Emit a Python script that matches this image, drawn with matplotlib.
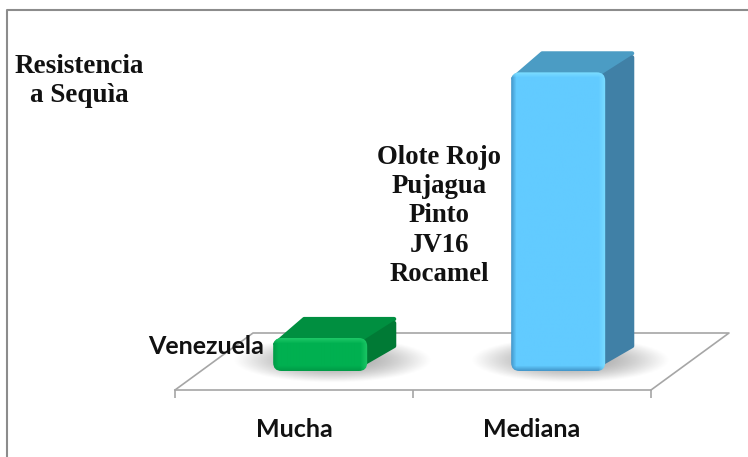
import numpy as np
import matplotlib
matplotlib.use("Agg")
import matplotlib.pyplot as plt
from matplotlib.colors import to_rgb
from matplotlib.lines import Line2D
from matplotlib.patches import FancyBboxPatch, Polygon

categories = ["Mucha", "Mediana"]
values = [1, 9.05]
bar_labels = ["Venezuela", "Olote Rojo\nPujagua\nPinto\nJV16\nRocamel"]
title_lines = "Resistencia\na Sequìa"

front_colors = ["#00B050", "#62CBFF"]
top_colors = ["#008F40", "#4B9CC4"]
side_colors = ["#007A35", "#4080A6"]
dark_edge = ["#009C47", "#4498CC"]
light_edge = ["#1CC766", "#7BDDFF"]

W, H = 748, 457
BASE_PX = 371      # pixel row of value 0 at the bar front
UNIT_PX = 33       # pixels per value unit
XUNIT_PX = 238     # pixels per category
BAR_W = 0.395
BAR_DX, BAR_DY = 29 / XUNIT_PX, 21 / UNIT_PX
FLOOR_DX, FLOOR_DY = 78 / XUNIT_PX, 57 / UNIT_PX
INSET_X, INSET_Y = 2 / XUNIT_PX, 2 / UNIT_PX
GREY = "#A6A6A6"

fig = plt.figure(figsize=(W / 100, H / 100), dpi=100, facecolor="white")
ax = fig.add_axes([175 / W, (H - 390) / H, 476 / W, 380 / H])
ax.set_xlim(0, 2)
ax.set_ylim(-(390 - BASE_PX) / UNIT_PX, (BASE_PX - 10) / UNIT_PX)
ax.patch.set_visible(False)
for s in ["top", "left", "right"]:
    ax.spines[s].set_visible(False)
ax.spines["bottom"].set_color(GREY)
ax.spines["bottom"].set_linewidth(1.2)
ax.set_yticks([])
ax.set_xticks([0, 1, 2])
ax.set_xticklabels([])
ax.set_xticks([0.5, 1.5], minor=True)
ax.set_xticklabels(categories, minor=True, family="Lato", fontweight="bold",
                   fontsize=18, color="#111111")
ax.tick_params(axis="x", which="major", length=6, width=1.2, color=GREY)
ax.tick_params(axis="x", which="minor", length=0, pad=20)

# floor
y0 = ax.get_ylim()[0]
ax.plot([0, FLOOR_DX, 2 + FLOOR_DX, 2], [y0, y0 + FLOOR_DY, y0 + FLOOR_DY, y0],
        color=GREY, lw=1.2, clip_on=False, zorder=1)


def shadow(x0, x1, yb, yt):
    yy, xx = np.mgrid[-1:1:60j, -1:1:160j]
    alpha = np.clip(1 - (xx ** 2 + yy ** 2), 0, 1) ** 1.2 * 0.62
    img = np.zeros((60, 160, 4))
    img[..., :3] = 0.45
    img[..., 3] = alpha
    ax.imshow(img, extent=(x0, x1, yb, yt), aspect="auto", zorder=2,
              interpolation="bilinear", clip_on=False)


def front_face(left, width, value, i):
    # bevelled front of a bar, rendered as an image clipped to a rounded box
    wpx = int(width * XUNIT_PX)
    hpx = int(value * UNIT_PX)
    yy, xx = np.mgrid[0:hpx, 0:wpx]
    base = np.array(to_rgb(front_colors[i]))
    dark = np.array(to_rgb(dark_edge[i]))
    light = np.array(to_rgb(light_edge[i]))
    img = np.ones((hpx, wpx, 3)) * base
    for d, col, size in [(xx, dark, 5), (hpx - 1 - yy, dark, 5),
                         (wpx - 1 - xx, light, 7), (yy, light, 5)]:
        k = np.clip(1 - d / size, 0, 1)[..., None]
        img = img * (1 - k) + col * k
    im = ax.imshow(img, extent=(left, left + width, 0, value), aspect="auto",
                   zorder=5, interpolation="bilinear", clip_on=True)
    box = FancyBboxPatch((left, 0), width, value, transform=ax.transData,
                         boxstyle="round,pad=0,rounding_size=0.035",
                         mutation_aspect=XUNIT_PX / UNIT_PX,
                         fc="none", ec="none", zorder=5)
    ax.add_patch(box)
    im.set_clip_path(box)


for i, value in enumerate(values):
    left = i + 0.61 - BAR_W / 2
    right = left + BAR_W
    shadow(left - 0.17, right + 0.27, -0.35, 1.02)
    ax.add_patch(Polygon([(left + INSET_X, value - 3 * INSET_Y),
                          (left + BAR_DX + INSET_X, value + BAR_DY - INSET_Y),
                          (right + BAR_DX - INSET_X, value + BAR_DY - INSET_Y),
                          (right - INSET_X, value - 3 * INSET_Y)],
                         closed=True, fc=top_colors[i], ec=top_colors[i], lw=3,
                         joinstyle="round", zorder=3, clip_on=False))
    ax.add_patch(Polygon([(right - 3 * INSET_X, 3 * INSET_Y),
                          (right + BAR_DX - INSET_X, BAR_DY + 2 * INSET_Y),
                          (right + BAR_DX - INSET_X, value + BAR_DY - 3 * INSET_Y),
                          (right - 3 * INSET_X, value - 3 * INSET_Y)],
                         closed=True, fc=side_colors[i], ec=side_colors[i], lw=3,
                         joinstyle="round", zorder=4, clip_on=False))
    front_face(left, BAR_W, value, i)

ax.set_xlim(0, 2)
ax.set_ylim(-(390 - BASE_PX) / UNIT_PX, (BASE_PX - 10) / UNIT_PX)

# labels next to the bars
ax.text(0.375, 0.75, bar_labels[0], ha="right", va="center", family="Lato",
        fontweight="bold", fontsize=18, color="#111111", zorder=6)
ax.text(1.111, 4.7, bar_labels[1], ha="center", va="center", multialignment="center",
        family="Liberation Serif", fontweight="bold", fontsize=19.3, linespacing=1.22,
        color="#111111", zorder=6)
fig.text(79 / W, 1 - 81 / H, title_lines, ha="center", va="center", multialignment="center",
         family="Liberation Serif", fontweight="bold", fontsize=19.5, linespacing=1.26,
         color="#111111")

# outer frame, cut by the image edge on the right and bottom
fig.add_artist(Line2D([7 / W, 7 / W, 1], [0, 1 - 10 / H, 1 - 10 / H], color="#8C8C8C", lw=1.5))

fig.savefig("out.png", dpi=100)
